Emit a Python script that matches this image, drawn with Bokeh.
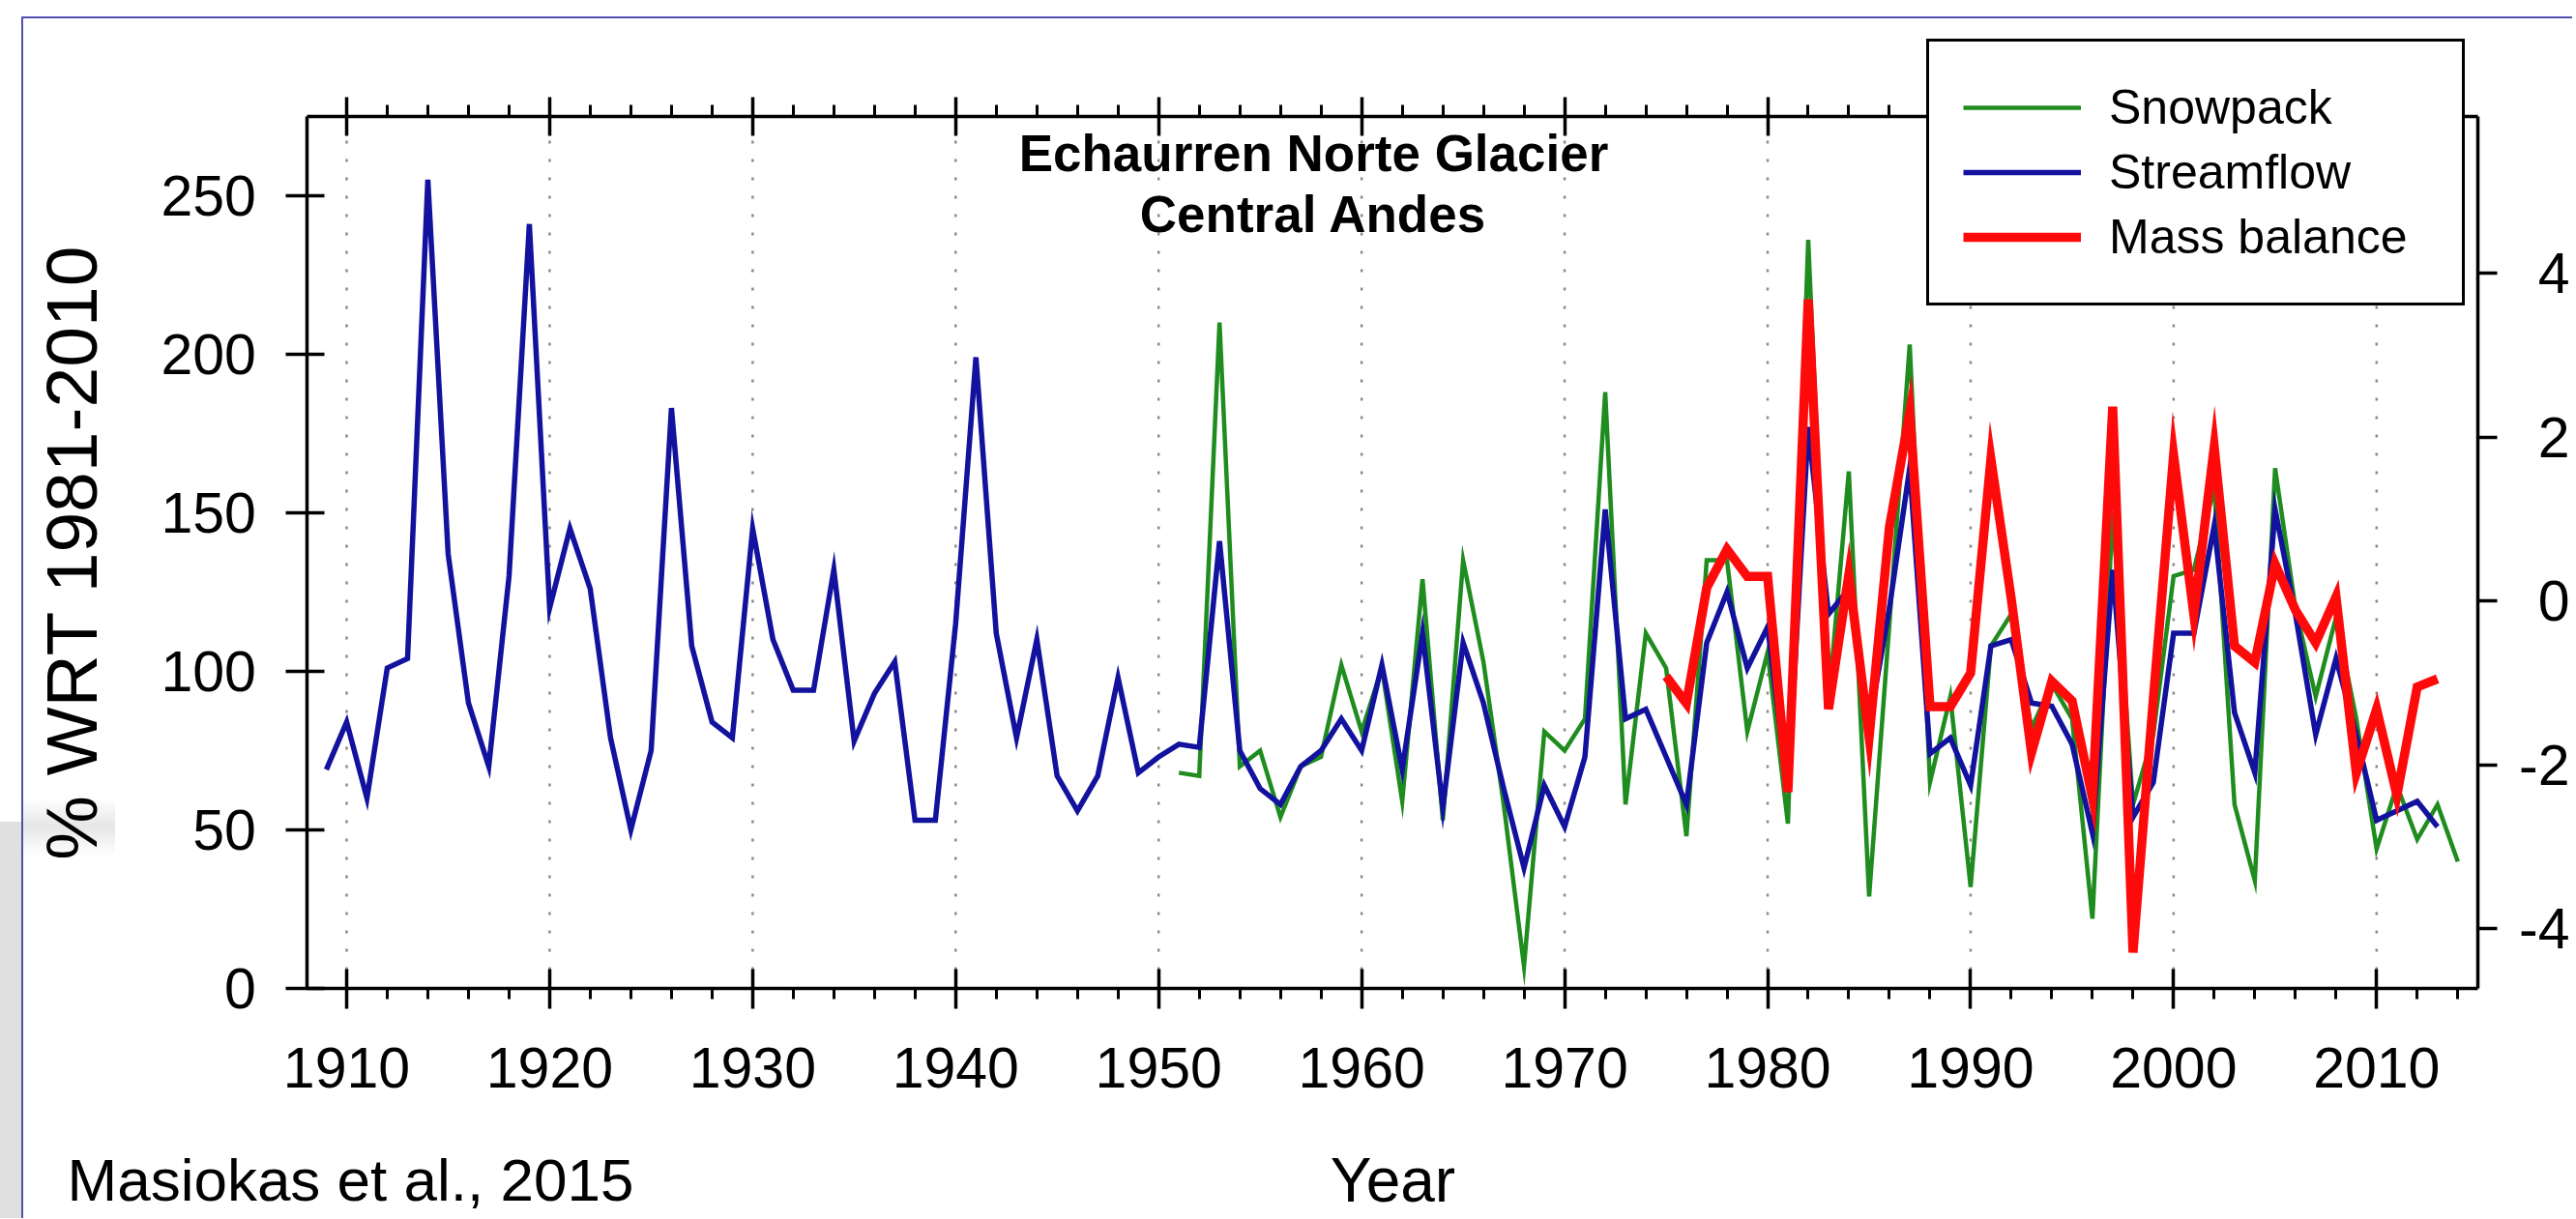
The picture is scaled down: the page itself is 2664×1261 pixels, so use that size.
from bokeh.plotting import figure
from bokeh.models import Range1d, LinearAxis, FixedTicker, Label, CustomJSTickFormatter
from bokeh.embed import file_html
from bokeh.resources import INLINE

# ---------------- data ----------------
stream_years = list(range(1909, 2014))
streamflow = [69, 84, 60, 101, 104, 255, 137, 90, 70, 130,
              241, 120, 145, 126, 79, 50, 75, 183, 108, 84,
              79, 145, 110, 94, 94, 132, 78, 93, 103, 53,
              53, 115, 199, 112, 79, 110, 67, 56, 67, 98,
              68, 73, 77, 76, 141, 75, 63, 58, 70, 75,
              85, 75, 102, 69, 112, 57, 109, 90, 63, 38,
              64, 51, 73, 151, 85, 88, 73, 58, 109, 125,
              101, 114, 62, 177, 118, 126, 83, 120, 164, 74,
              79, 64, 108, 110, 90, 89, 77, 49, 132, 54,
              65, 112, 112, 146, 87, 68, 151, 118, 80, 104,
              80, 53, 56, 59, 51]

snow_years = list(range(1951, 2015))
snowpack = [68, 67, 210, 70, 75, 54, 70, 73, 102, 81,
            101, 59, 129, 53, 135, 103, 58, 7, 81, 75,
            85, 188, 58, 112, 101, 48, 135, 135, 81, 106,
            52, 236, 90, 163, 29, 115, 203, 65, 92, 32,
            108, 118, 82, 96, 85, 22, 150, 58, 80, 130,
            132, 158, 58, 34, 164, 120, 92, 117, 85, 44,
            64, 47, 58, 40]

mb_years = list(range(1975, 2014))
mass_balance = [-0.92, -1.25, 0.16, 0.63, 0.30, 0.30, -2.33, 3.68, -1.32, 0.32,
                -1.66, 0.90, 2.30, -1.29, -1.29, -0.88, 1.73, 0.03, -1.85, -0.98,
                -1.22, -2.40, 2.37, -4.29, -1.20, 1.78, -0.17, 1.88, -0.55, -0.75,
                0.45, -0.11, -0.51, 0.05, -2.10, -1.32, -2.37, -1.05, -0.95]

decade_ticks = [1910, 1920, 1930, 1940, 1950, 1960, 1970, 1980, 1990, 2000, 2010]
minor_year_ticks = [y for y in range(1910, 2015, 2) if y % 10 != 0]
left_ticks = [0, 50, 100, 150, 200, 250]
right_ticks = [-4, -2, 0, 2, 4]
right_tick_labels = ["-4", "-2", "0", "2", "4"]

series_names = ["Snowpack", "Streamflow", "Mass balance"]
title_lines = ["Echaurren Norte Glacier", "Central Andes"]
y_label = "% WRT 1981-2010"
x_label = "Year"
credit = "Masiokas et al., 2015"

# axes extents of the plotting box
X_MIN, X_MAX = 1908.066, 2015.0
Y_MIN, Y_MAX = 0.0, 274.9
MB_MIN, MB_MAX = -4.727, 5.909

# ---------------- layout / styling ----------------
W, H = 2660, 1260
PX_PER_YEAR = 20.993
PX_PER_PCT = 3.281
PX_PER_MB = 84.79
X0 = 1892.947            # year at the left canvas edge
Y_TOP = 311.49           # % value at the top canvas edge
MB_TOP = 7.326           # mass balance value at the top canvas edge


def cx(px):
    return X0 + px / PX_PER_YEAR


def cy(px):
    return Y_TOP - px / PX_PER_PCT


FONT = "Liberation Sans"
C_GREEN = "#1e8c1e"
C_BLUE = "#12129e"
C_RED = "#ff0a0a"

p = figure(width=W, height=H, output_backend="svg", toolbar_location=None,
           x_range=Range1d(X0, X0 + W / PX_PER_YEAR),
           y_range=Range1d(Y_TOP - H / PX_PER_PCT, Y_TOP),
           min_border_left=0, min_border_right=0, min_border_top=0, min_border_bottom=0)
p.extra_y_ranges = {"mb": Range1d(MB_TOP - H / PX_PER_MB, MB_TOP)}
p.outline_line_color = None
p.background_fill_color = None
p.border_fill_color = None
p.styles = {"background":
            "linear-gradient(#5050b0,#5050b0) 22px 17px / 2640px 2px no-repeat, "
            "linear-gradient(#5050b0,#5050b0) 22px 17px / 2px 1245px no-repeat, "
            "linear-gradient(#e0e0e0,#e0e0e0) 0px 850px / 22px 420px no-repeat, "
            "linear-gradient(to bottom, rgba(224,224,224,0), rgba(224,224,224,0.8) 50%, rgba(224,224,224,0)) 24px 825px / 95px 60px no-repeat, "
            "#ffffff"}
p.xgrid.visible = False
p.ygrid.visible = False

blank = CustomJSTickFormatter(code="return ''")

# bottom axis
xa = p.below[0]
xa.fixed_location = Y_MIN
xa.bounds = (X_MIN, X_MAX)
xa.ticker = FixedTicker(ticks=decade_ticks, minor_ticks=minor_year_ticks)
xa.axis_line_width = 3.5
xa.major_tick_line_width = 3.5
xa.minor_tick_line_width = 3
xa.major_tick_in = 20
xa.major_tick_out = 21
xa.minor_tick_in = 0
xa.minor_tick_out = 11
xa.major_label_text_font = FONT
xa.major_label_text_font_size = "59px"
xa.major_label_text_color = "black"
xa.major_label_standoff = 41

# left axis
ya = p.left[0]
ya.fixed_location = X_MIN
ya.bounds = (Y_MIN, Y_MAX)
ya.ticker = FixedTicker(ticks=left_ticks, minor_ticks=[])
ya.axis_line_width = 3.5
ya.major_tick_line_width = 3.5
ya.major_tick_in = 18
ya.major_tick_out = 22
ya.minor_tick_in = 0
ya.minor_tick_out = 0
ya.major_label_text_font = FONT
ya.major_label_text_font_size = "59px"
ya.major_label_text_color = "black"
ya.major_label_standoff = 31
ya.axis_label = y_label
ya.axis_label_text_font = FONT
ya.axis_label_text_font_size = "75px"
ya.axis_label_text_font_style = "normal"
ya.axis_label_text_color = "black"
ya.axis_label_standoff = 47

# top axis (box edge with ticks, no labels)
top = LinearAxis(ticker=FixedTicker(ticks=decade_ticks, minor_ticks=minor_year_ticks),
                 formatter=blank, fixed_location=Y_MAX, bounds=(X_MIN, X_MAX),
                 axis_line_width=3.5, major_tick_line_width=3.5,
                 minor_tick_line_width=3, major_tick_in=20, major_tick_out=20,
                 minor_tick_in=0, minor_tick_out=12, major_label_text_font_size="8px")
p.add_layout(top, "above")

# right axis for mass balance
right = LinearAxis(y_range_name="mb", ticker=FixedTicker(ticks=right_ticks, minor_ticks=[]),
                   formatter=blank, fixed_location=X_MAX, bounds=(MB_MIN, MB_MAX),
                   axis_line_width=3.5, major_tick_line_width=3.5,
                   major_tick_in=0, major_tick_out=20, minor_tick_in=0, minor_tick_out=0,
                   major_label_text_font_size="8px")
p.add_layout(right, "right")

# dotted vertical grid lines at the decades (inside the box only)
p.segment(x0=decade_ticks, y0=[Y_MIN] * len(decade_ticks),
          x1=decade_ticks, y1=[Y_MAX] * len(decade_ticks),
          line_color="#8a8a8a", line_width=2.5, line_dash="3 16")

# series
p.line(snow_years, snowpack, line_color=C_GREEN, line_width=4.5, line_join="miter",
       legend_label=series_names[0])
p.line(stream_years, streamflow, line_color=C_BLUE, line_width=5.5, line_join="miter",
       legend_label=series_names[1])
p.line(mb_years, mass_balance, y_range_name="mb", line_color=C_RED, line_width=9.5,
       line_join="miter", legend_label=series_names[2])

# right tick labels
for v, t in zip(right_ticks, right_tick_labels):
    p.add_layout(Label(x=cx(2657), y=v, y_range_name="mb", text=t,
                       text_align="right", text_baseline="middle", text_font=FONT,
                       text_font_size="59px", text_color="black"))

# title inside the plot
p.add_layout(Label(x=cx(1358), y=cy(158), text=title_lines[0],
                   text_align="center", text_baseline="middle", text_font=FONT,
                   text_font_size="53px", text_font_style="bold", text_color="black"))
p.add_layout(Label(x=cx(1358), y=cy(221), text=title_lines[1],
                   text_align="center", text_baseline="middle", text_font=FONT,
                   text_font_size="53px", text_font_style="bold", text_color="black"))

# x axis title and credit
p.add_layout(Label(x=cx(1440), y=cy(1220), text=x_label,
                   text_align="center", text_baseline="middle", text_font=FONT,
                   text_font_size="64px", text_color="black"))
p.add_layout(Label(x=cx(69), y=cy(1220), text=credit,
                   text_align="left", text_baseline="middle", text_font=FONT,
                   text_font_size="62px", text_color="black"))

# legend
lg = p.legend[0]
lg.location = (1992, H - 316)
lg.label_text_font = FONT
lg.label_text_font_size = "50px"
lg.label_text_color = "black"
lg.glyph_width = 122
lg.glyph_height = 66
lg.label_height = 66
lg.label_width = 330
lg.label_standoff = 29
lg.padding = 35
lg.spacing = 1
lg.margin = 0
lg.border_line_color = "black"
lg.border_line_alpha = 1.0
lg.border_line_width = 3
lg.background_fill_color = "white"
lg.background_fill_alpha = 1.0

open("out.html", "w").write(file_html(p, INLINE))
